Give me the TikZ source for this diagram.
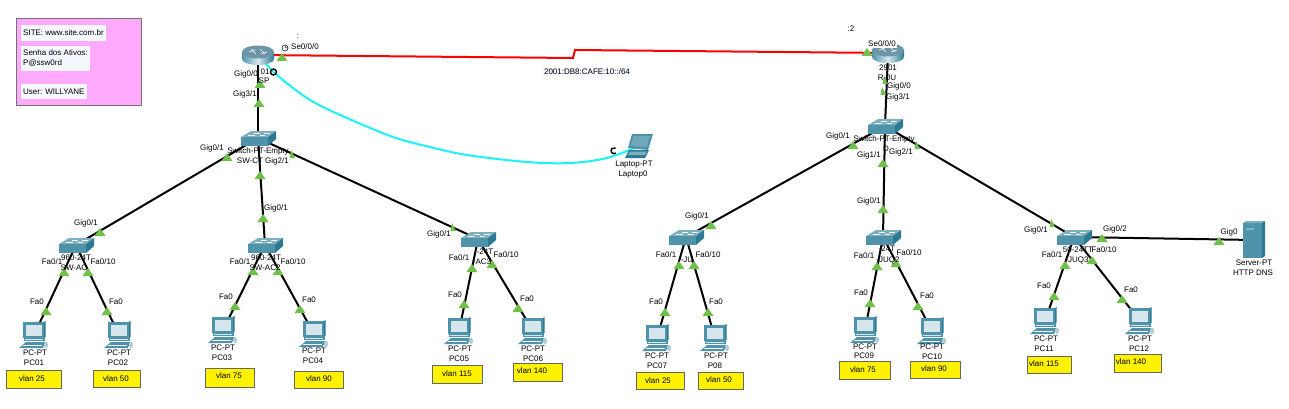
\documentclass[tikz,border=0pt]{standalone}
\usepackage{fontspec}
\setmainfont{Liberation Sans}
\definecolor{swtop}{HTML}{7FB0C2}
\definecolor{swfront}{HTML}{4F93AB}
\definecolor{swside}{HTML}{2C7A92}
\definecolor{scr}{HTML}{D6E6ED}
\definecolor{linkgreen}{HTML}{6FBF4A}
\definecolor{softbg}{HTML}{F6F8FF}
\definecolor{pinkbox}{HTML}{FFAAFF}
\definecolor{consolecyan}{HTML}{1CF2F8}
\newcounter{lb}
\tikzset{
  x=1pt,y=-1pt,
  dev/.style={inner sep=0pt,minimum size=1pt,outer sep=0pt},
  cable/.style={line width=2pt,black},
  serialcable/.style={line width=2pt,red},
  consolecable/.style={line width=2pt,consolecyan,line join=round},
  lbl/.style={font=\fontsize{8}{9}\selectfont,inner sep=0pt,text=black},
  masked/.style={lbl,fill=white,inner sep=1pt},
  softbox/.style={font=\fontsize{8}{12}\selectfont,fill=softbg,inner sep=2pt,anchor=west,align=left},
  vlanbox/.style={fill=yellow,draw=black!60,line width=0.9pt},
  infobox/.style={fill=pinkbox,draw=black!55,line width=0.9pt},
  switchicon/.pic={
    \fill[swtop] (-17,-1)--(-7,-7)--(18,-7)--(10,-1)--cycle;
    \fill[swfront] (-17,-1)--(10,-1)--(10,8)--(-17,8)--cycle;
    \fill[swside] (10,-1)--(18,-7)--(18,1)--(10,8)--cycle;
    \draw[white,line width=0.5pt] (-10,-2.5)--(-3,-2.5) (2,-2.5)--(7,-2.5) (-4,-5)--(2,-5) (6,-5)--(12,-5);
  },
  routericon/.pic={
    \shade[left color=swfront,right color=swside,middle color=scr]
      (-16,-3) -- (-16,4) arc[start angle=180,end angle=0,x radius=16,y radius=6] -- (16,-3) -- cycle;
    \fill[swtop!85!black] (0,-3) ellipse[x radius=16,y radius=6.5];
    \draw[white,line width=0.6pt] (-9,-3)--(-3,-5) (3,-1)--(9,-3) (-7,-6)--(-2,-1) (2,-6)--(7,-1);
  },
  pcicon/.pic={
    \fill[swfront] (-11,-13) rectangle (10,3);
    \fill[swside] (10,-13)--(11.5,-14)--(11.5,2)--(10,3)--cycle;
    \fill[scr] (-8,-10) rectangle (8,1);
    \fill[swfront] (-10,3) rectangle (11,6);
    \fill[scr] (-9,4) rectangle (9,4.6);
    \fill[swfront] (-15,13)--(-8,7)--(11,7)--(9,13)--cycle;
    \draw[white,line width=0.4pt] (-11,10)--(8,10);
    \draw[swfront,line width=0.5pt] (12,7) arc[start angle=-60,end angle=60,radius=2];
    \fill[scr!70!swfront] (12,10) ellipse[x radius=2,y radius=3];
  },
  laptopicon/.pic={
    \fill[swfront] (-11,2)--(-7,-12)--(14,-12)--(9,4)--cycle;
    \fill[swtop!70!swfront] (-8.5,0)--(-5.5,-10)--(11,-10)--(7.5,1)--cycle;
    \fill[swside] (-14,12)--(-10,4)--(10,4)--(6,12)--cycle;
    \fill[swtop] (-11,9)--(-9,5.5)--(8,5.5)--(6,9)--cycle;
  },
  servericon/.pic={
    \fill[swfront] (-11,-17) rectangle (8,18);
    \fill[swtop] (-11,-17)--(-8,-19)--(11,-19)--(8,-17)--cycle;
    \fill[swside] (8,-17)--(11,-19)--(11,16)--(8,18)--cycle;
    \fill[swtop] (-8,-12) rectangle (0,-10);
  }
}
\newcommand{\lab}[3]{\stepcounter{lb}\node[lbl] (t\arabic{lb}) at (#1,#2) {#3};}
\newcommand{\mlab}[3]{\stepcounter{lb}\node[masked] (t\arabic{lb}) at (#1,#2) {#3};}
\newcommand{\vlan}[7]{\stepcounter{lb}\node[vlanbox,minimum width=#3pt-#1pt,minimum height=#4pt-#2pt,inner sep=0pt] (b\arabic{lb}) at ({(#1+#3)/2},{(#2+#4)/2}) {};
  \node[lbl] (t\arabic{lb}) at (#6,#7) {#5};}
\begin{document}
\begin{tikzpicture}
\useasboundingbox (0,0) rectangle (1289,409);
% device anchors
\node[dev] (sp) at (258,55) {};
\node[dev] (rtwo) at (888,53) {};
\node[dev] (ct) at (258,138) {};
\node[dev] (rsw) at (885,126) {};
\node[dev] (ac1) at (76,245) {};
\node[dev] (ac2) at (265,245) {};
\node[dev] (ac3) at (478,239) {};
\node[dev] (ju1) at (686,237) {};
\node[dev] (ju2) at (883,237) {};
\node[dev] (ju3) at (1074,237) {};
\node[dev] (srv) at (1254,240) {};
\node[dev] (lap) at (639,146) {};
\node[dev] (pc1) at (34,335) {};
\node[dev] (pc2) at (119,335) {};
\node[dev] (pc3) at (223,330) {};
\node[dev] (pc4) at (314,334) {};
\node[dev] (pc5) at (459,331) {};
\node[dev] (pc6) at (533,331) {};
\node[dev] (pc7) at (657,338) {};
\node[dev] (pc8) at (715,338) {};
\node[dev] (pc9) at (865,330) {};
\node[dev] (pc10) at (932,331) {};
\node[dev] (pc11) at (1045,321) {};
\node[dev] (pc12) at (1140,321) {};
\coordinate (kinkA) at (573,58);
\coordinate (kinkB) at (575,50);
% info box
\draw[infobox] (16,18) rectangle (141,105);
\node[softbox,minimum height=16pt] (info1) at (21,33) {SITE: www.site.com.br};
\node[softbox,minimum height=25pt,minimum width=66pt] (info2) at (21,58.5) {Senha dos Ativos:\\[-2pt]P@ssw0rd};
\node[softbox,minimum height=15pt] (info3) at (21,91.5) {User: WILLYANE};
% connectors
\draw[serialcable] (sp.center) -- (kinkA) -- (kinkB) -- (rtwo.center);
\draw[consolecable] plot[smooth,tension=.55] coordinates {(sp.center) (277,75) (310,100) (347,118) (393,137) (430,147) (467,155) (527,162) (570,163) (607,158) (lap.center)};
\foreach \a/\b in {sp/ct,ct/ac1,ct/ac2,ct/ac3,ac1/pc1,ac1/pc2,ac2/pc3,ac2/pc4,ac3/pc5,ac3/pc6,
   rtwo/rsw,rsw/ju1,rsw/ju2,rsw/ju3,ju1/pc7,ju1/pc8,ju2/pc9,ju2/pc10,ju3/pc11,ju3/pc12}
  \draw[cable] (\a.center) -- (\b.center);
\draw[cable] (ju3.center) -- (srv.center);
% icons
\pic at (sp) {routericon};
\pic at (rtwo) {routericon};
\foreach \d in {ct,rsw,ac1,ac2,ac3,ju1,ju2,ju3} \pic at (\d) {switchicon};
\foreach \d in {pc1,pc2,pc3,pc4,pc5,pc6,pc7,pc8,pc9,pc10,pc11,pc12} \pic at (\d) {pcicon};
\pic at (lap) {laptopicon};
\pic at (srv) {servericon};
% console ports and clock
\draw[black,line width=1.4pt] (273.5,72) circle[radius=3];
\draw[black,line width=1.4pt] (616,153) arc[start angle=50,end angle=300,radius=3];
\draw[black,line width=0.5pt] (285,48) circle[radius=3] (285,46)--(285,48)--(287,48);
% link state marks
\foreach \x/\y in {282/57,260/84,259/103,227/157,260/175,100/232,64/272,88/272,46/311,107/311,263/218,253/271,278/271,235/306,300/309,
   472/268,492/264,464/304,518/308,711/225,679/265,694/265,665/312,708/312,867/52,853/145,883/163,883/209,877/266,896/263,870/303,918/306,
   1065/265,1092/260,1054/296,1122/299,1102/238,1219/241}
  \fill[linkgreen] (\x-5.5,\y+4)--(\x+5.5,\y+4)--(\x,\y-4)--cycle;
\foreach \x/\y in {292/154,453/227,885/80,883/91,917/145,1052/223}
  \fill[linkgreen] (\x-2.5,\y+4)--(\x+3,\y+4)--(\x-1,\y-4)--cycle;
% vlan boxes
\vlan{6}{370}{61}{388}{vlan 25}{32}{379}
\vlan{93}{370}{140}{387}{vlan 50}{116}{379}
\vlan{205}{368}{254}{387}{vlan 75}{229}{376}
\vlan{294}{371}{343}{388}{vlan 90}{319}{379}
\vlan{432}{365}{482}{383}{vlan 115}{457}{374}
\vlan{513}{363}{562}{381}{vlan 140}{532}{371}
\vlan{636}{372}{684}{389}{vlan 25}{658}{381}
\vlan{698}{372}{743}{389}{vlan 50}{719}{380}
\vlan{839}{361}{890}{379}{vlan 75}{863}{370}
\vlan{910}{361}{960}{378}{vlan 90}{934}{369}
\vlan{1027}{356}{1071}{373}{vlan 115}{1044}{364}
\vlan{1114}{354}{1161}{372}{vlan 140}{1131}{362}
% texts: left part
\lab{298}{36}{:}
\lab{305}{47}{Se0/0/0}
\lab{246}{74}{Gig0/0}
\lab{265}{72}{01}
\lab{264}{81}{SP}
\lab{245}{94}{Gig3/1}
\lab{212}{148}{Gig0/1}
\lab{258}{151}{Switch-PT-Empty}
\lab{250}{161}{SW-CT}
\lab{277}{161}{Gig2/1}
\lab{276}{208}{Gig0/1}
\lab{86}{223}{Gig0/1}
\lab{52}{262}{Fa0/1}
\lab{103}{262}{Fa0/10}
\lab{76}{258}{960-24T}
\lab{74}{268}{SW-AC}
\lab{37}{302}{Fa0}
\lab{116}{302}{Fa0}
\lab{35}{353}{PC-PT}
\lab{34}{363}{PC01}
\lab{119}{353}{PC-PT}
\lab{118}{363}{PC02}
\lab{240}{262}{Fa0/1}
\lab{293}{262}{Fa0/10}
\lab{266}{258}{960-24T}
\lab{265}{268}{SW-AC2}
\lab{226}{297}{Fa0}
\lab{309}{300}{Fa0}
\lab{223}{348}{PC-PT}
\lab{222}{358}{PC03}
\lab{314}{351}{PC-PT}
\lab{313}{361}{PC04}
\lab{439}{234}{Gig0/1}
\lab{459}{258}{Fa0/1}
\lab{506}{255}{Fa0/10}
\lab{485}{252}{-24T}
\lab{482}{262}{-AC3}
\lab{455}{295}{Fa0}
\lab{527}{299}{Fa0}
\lab{460}{349}{PC-PT}
\lab{459}{359}{PC05}
\lab{533}{349}{PC-PT}
\lab{533}{359}{PC06}
\lab{634}{165}{Laptop-PT}
\lab{633}{175}{Laptop0}
\stepcounter{lb}\node[softbox,anchor=center,font=\fontsize{8}{9}\selectfont] (t\arabic{lb}) at (587,72) {2001:DB8:CAFE:10::/64};
% texts: right part
\lab{697}{216}{Gig0/1}
\lab{666}{255}{Fa0/1}
\lab{708}{255}{Fa0/10}
\lab{687}{260}{-JU}
\lab{656}{302}{Fa0}
\lab{716}{302}{Fa0}
\lab{657}{356}{PC-PT}
\lab{657}{366}{PC07}
\lab{716}{356}{PC-PT}
\lab{715}{366}{P08}
\lab{851}{29}{:2}
\mlab{882}{44}{Se0/0/0}
\lab{888}{68}{2901}
\lab{887}{78}{R-JU}
\lab{899}{86}{Gig0/0}
\lab{898}{97}{Gig3/1}
\lab{838}{136}{Gig0/1}
\lab{884}{139}{Switch-PT-Empty}
\lab{886}{149}{D}
\lab{869}{155}{Gig1/1}
\lab{901}{152}{Gig2/1}
\lab{869}{201}{Gig0/1}
\lab{864}{256}{Fa0/1}
\lab{887}{249}{-24T}
\lab{909}{253}{Fa0/10}
\lab{888}{260}{-JUQ2}
\lab{861}{293}{Fa0}
\lab{927}{296}{Fa0}
\lab{865}{347}{PC-PT}
\lab{864}{356}{PC09}
\lab{932}{347}{PC-PT}
\lab{932}{357}{PC10}
\lab{1036}{230}{Gig0/1}
\lab{1115}{229}{Gig0/2}
\lab{1229}{232}{Gig0}
\lab{1052}{255}{Fa0/1}
\lab{1078}{250}{50-24TT}
\lab{1104}{250}{Fa0/10}
\lab{1077}{260}{-JUQ3}
\lab{1044}{286}{Fa0}
\lab{1131}{290}{Fa0}
\lab{1046}{339}{PC-PT}
\lab{1044}{349}{PC11}
\lab{1140}{339}{PC-PT}
\lab{1139}{349}{PC12}
\lab{1254}{263}{Server-PT}
\lab{1253}{273}{HTTP DNS}
\end{tikzpicture}
\end{document}
